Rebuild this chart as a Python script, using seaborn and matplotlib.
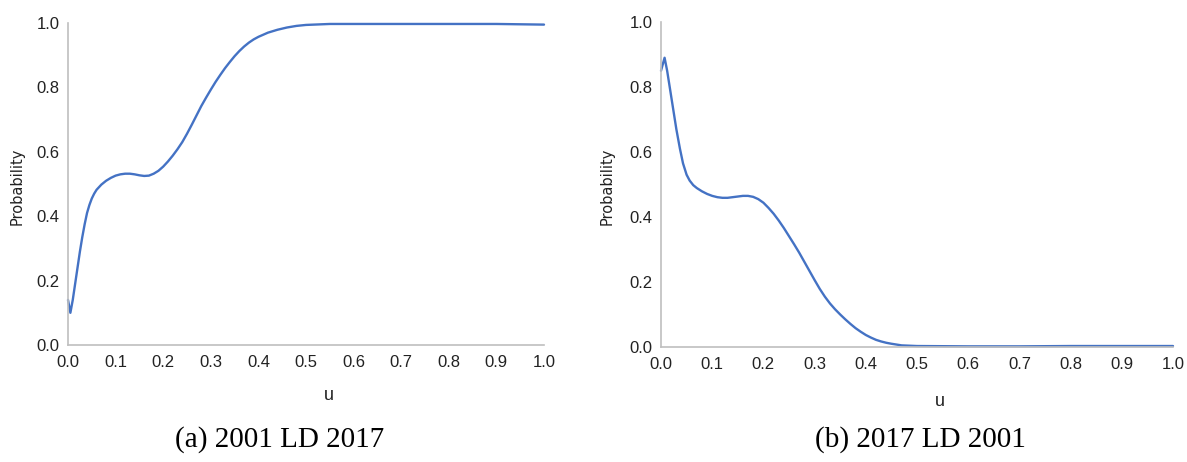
import matplotlib
matplotlib.use("Agg")
import matplotlib.pyplot as plt
import seaborn as sns
import pandas as pd

# Probability curves over the threshold u
u_a = [0.000, 0.005, 0.010, 0.015, 0.020, 0.025, 0.030, 0.035, 0.040, 0.045,
       0.050, 0.055, 0.060, 0.070, 0.080, 0.090, 0.100, 0.110, 0.120, 0.130,
       0.140, 0.150, 0.160, 0.170, 0.180, 0.190, 0.200, 0.210, 0.220, 0.230,
       0.240, 0.250, 0.260, 0.270, 0.280, 0.290, 0.300, 0.310, 0.320, 0.330,
       0.340, 0.350, 0.360, 0.370, 0.380, 0.390, 0.400, 0.420, 0.440, 0.460,
       0.480, 0.500, 0.550, 0.600, 0.700, 0.800, 0.900, 0.950, 1.000]
p_a = [0.140, 0.100, 0.140, 0.190, 0.240, 0.290, 0.335, 0.375, 0.410, 0.435,
       0.455, 0.470, 0.482, 0.498, 0.510, 0.519, 0.526, 0.530, 0.532, 0.532,
       0.530, 0.527, 0.525, 0.526, 0.532, 0.541, 0.554, 0.570, 0.588, 0.608,
       0.630, 0.656, 0.684, 0.713, 0.742, 0.768, 0.793, 0.817, 0.839, 0.860,
       0.879, 0.897, 0.913, 0.927, 0.939, 0.949, 0.957, 0.970, 0.979, 0.986,
       0.991, 0.994, 0.997, 0.997, 0.997, 0.997, 0.997, 0.996, 0.995]

u_b = [0.000, 0.007, 0.012, 0.018, 0.024, 0.030, 0.037, 0.043, 0.050, 0.056,
       0.063, 0.070, 0.080, 0.090, 0.100, 0.110, 0.120, 0.130, 0.140, 0.150,
       0.160, 0.170, 0.180, 0.190, 0.200, 0.210, 0.220, 0.230, 0.240, 0.250,
       0.260, 0.270, 0.280, 0.290, 0.300, 0.310, 0.320, 0.330, 0.340, 0.350,
       0.360, 0.370, 0.380, 0.390, 0.400, 0.410, 0.420, 0.430, 0.440, 0.450,
       0.470, 0.500, 0.600, 0.700, 0.800, 0.900, 1.000]
p_b = [0.850, 0.890, 0.850, 0.790, 0.730, 0.670, 0.610, 0.565, 0.530, 0.512,
       0.498, 0.489, 0.479, 0.471, 0.465, 0.461, 0.459, 0.459, 0.461, 0.463,
       0.465, 0.465, 0.462, 0.455, 0.444, 0.428, 0.410, 0.389, 0.366, 0.341,
       0.316, 0.290, 0.262, 0.234, 0.206, 0.179, 0.155, 0.134, 0.116, 0.100,
       0.085, 0.071, 0.058, 0.047, 0.037, 0.029, 0.022, 0.017, 0.013, 0.010,
       0.005, 0.003, 0.002, 0.002, 0.003, 0.003, 0.003]

ticks = [0.0, 0.1, 0.2, 0.3, 0.4, 0.5, 0.6, 0.7, 0.8, 0.9, 1.0]
yticks = [0.0, 0.2, 0.4, 0.6, 0.8, 1.0]
captions = ["(a) 2001 LD 2017", "(b) 2017 LD 2001"]

sns.set_theme(style="white")
plt.rcParams["font.family"] = ["Liberation Sans", "DejaVu Sans"]

LINE = "#4472C4"
SPINE = "#BFBFBF"
TEXT = "#222222"

W, H = 1187, 462
fig = plt.figure(figsize=(W / 100, H / 100), dpi=100)

# panel geometry in pixels: plot box, axis-title and caption anchors
panels = [
    dict(box=(68, 544, 345, 23), xlab=(329, 395), ylab=(17, 186), cap=(280, 440)),
    dict(box=(661, 1173, 347, 22), xlab=(940, 402), ylab=(607, 186), cap=(920, 440)),
]
data = [pd.DataFrame({"u": u_a, "p": p_a}), pd.DataFrame({"u": u_b, "p": p_b})]

for spec, df, cap in zip(panels, data, captions):
    x0, x1, yb, yt = spec["box"]
    ax = fig.add_axes([x0 / W, (H - yb) / H, (x1 - x0) / W, (yb - yt) / H])
    sns.lineplot(data=df, x="u", y="p", ax=ax, color=LINE, linewidth=1.7,
                 clip_on=False)
    ax.set_xlim(0, 1)
    ax.set_ylim(0, 1)
    ax.set_xticks(ticks)
    ax.set_xticklabels([f"{t:.1f}" for t in ticks])
    ax.set_yticks(yticks)
    ax.set_yticklabels([f"{t:.1f}" for t in yticks])
    ax.tick_params(axis="x", length=0, labelsize=12, colors=TEXT, pad=7)
    ax.tick_params(axis="y", length=0, labelsize=12, colors=TEXT, pad=6)
    for side in ["top", "right"]:
        ax.spines[side].set_visible(False)
    for side in ["left", "bottom"]:
        ax.spines[side].set_color(SPINE)
        ax.spines[side].set_linewidth(1.2)
    ax.set_xlabel("")
    ax.set_ylabel("")

    fig.text(spec["xlab"][0] / W, 1 - spec["xlab"][1] / H, "u",
             ha="center", va="center", fontsize=13, color=TEXT)
    fig.text(spec["ylab"][0] / W, 1 - spec["ylab"][1] / H, "Probability",
             ha="center", va="center", rotation=90, fontsize=10.5,
             color=TEXT, family="DejaVu Sans")
    fig.text(spec["cap"][0] / W, 1 - spec["cap"][1] / H, cap,
             ha="center", va="center", fontsize=21,
             family="Liberation Serif", color="black")

fig.savefig("out.png", dpi=100)
